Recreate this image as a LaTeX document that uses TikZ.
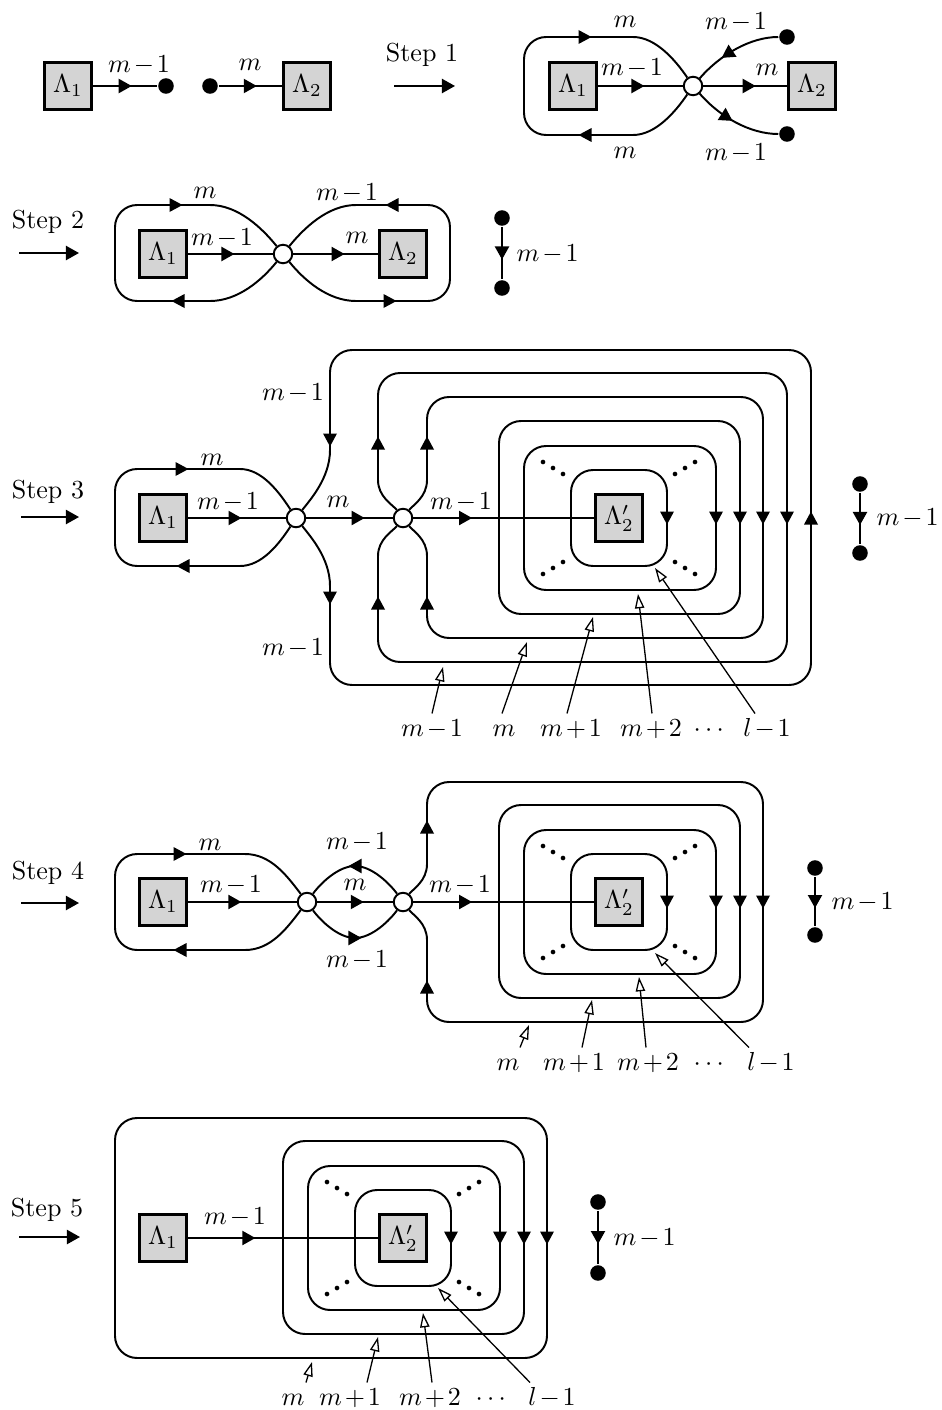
\documentclass[tikz,border=0pt]{standalone}
\usepackage{amsmath, amssymb}
\usepackage{tikz}
\usetikzlibrary{arrows.meta, decorations.markings, calc}

\medmuskip=2mu

\tikzset{
  lam/.style={draw, line width=1.15pt, fill=black!17, minimum size=0.64cm, inner sep=0pt},
  vert/.style={circle, draw, fill=white, minimum size=0.25cm, inner sep=0pt},
  blob/.style={circle, fill, minimum size=0.21cm, inner sep=0pt},
  tag/.style={inner sep=2pt, text height=6.4pt, text depth=0pt},
  flow/.style={postaction={decorate}, decoration={markings,
      mark=at position #1 with {\arrow[xshift=2.5pt]{Triangle[length=5pt, width=5.4pt]}}}},
  flow/.default=0.5,
  steparrow/.style={-{Triangle[length=5pt, width=5.4pt]}},
  pointer/.style={line width=0.5pt, -{Triangle[open, length=5.5pt, width=3.6pt]}},
  ring/.style={rounded corners=8.5pt},
  tri/.pic={\fill (6.5,0) -- (-6.5,7) -- (-6.5,-7) -- cycle;},
  nest/.pic={
    \draw[ring] (-120,-97) rectangle (121,96);
    \draw[ring] (-95,-72) rectangle (97,72);
    \draw[ring] (-48,-48) rectangle (48,48);
    \foreach \rx in {48,97,121} \pic[rotate=-90] at (\rx,0) {tri};
    \foreach \sx in {-1,1} \foreach \sy in {-1,1} \foreach \k in {0,1,2}
      \fill ({\sx*(56+10*\k)}, {\sy*(44+6*\k)}) circle (0.9pt);
  }
}

\begin{document}
\begin{tikzpicture}[x=0.0135cm, y=-0.0135cm, line width=0.75pt]
  \path[use as bounding box, fill=white] (0,0) rectangle (941,1410);

  % 0. Ausgangslage
  \node[lam] (s0a) at (68,86) {$\Lambda_1$};
  \node[blob] (s0d1) at (166,86) {};
  \node[blob] (s0d2) at (210,86) {};
  \node[lam] (s0b) at (307,86) {$\Lambda_2$};
  \draw[flow] (s0a) -- (s0d1);
  \draw[flow] (s0d2) -- (s0b);
  \node (s0l1) at (139,65) {$m-1$};
  \node (s0l2) at (250,65) {$m$};

  % 1. Schritt 1
  \node (s1) at (422,55) {Step 1};
  \coordinate (s1a) at (394,86);
  \coordinate (s1b) at (455,86);
  \draw[steparrow] (s1a) -- (s1b);
  \node[lam] (t1a) at (573,86) {$\Lambda_1$};
  \node[vert] (t1v) at (693,86) {};
  \node[lam] (t1b) at (812,86) {$\Lambda_2$};
  \node[blob] (t1d1) at (787,37) {};
  \node[blob] (t1d2) at (787,134) {};
  \draw[flow=0.47] (t1a) -- (t1v);
  \draw[flow=0.55] (t1v) -- (t1b);
  \draw[flow=0.6] (t1d1) .. controls (750,37) and (720,55) .. (t1v);
  \draw[flow=0.4] (t1v) .. controls (720,117) and (750,134) .. (t1d2);
  \draw (633,135) .. controls (656,135) and (676,111) .. (t1v)
    .. controls (676,61) and (656,37) .. (633,37) [ring] -- (524,37) -- (524,135) -- (633,135);
  \pic at (585,37) {tri};
  \pic[rotate=180] at (585,135) {tri};
  \node (t1l1) at (625,22) {$m$};
  \node (t1l2) at (736,22) {$m-1$};
  \node (t1l3) at (632,68) {$m-1$};
  \node (t1l4) at (767,70) {$m$};
  \node (t1l5) at (625,153) {$m$};
  \node (t1l6) at (736,153) {$m-1$};

  % 2. Schritt 2
  \node (s2) at (48,222) {Step 2};
  \coordinate (s2a) at (19,253);
  \coordinate (s2b) at (79,253);
  \draw[steparrow] (s2a) -- (s2b);
  \node[lam] (t2a) at (163,254) {$\Lambda_1$};
  \node[vert] (t2v) at (283,254) {};
  \node[lam] (t2b) at (403,254) {$\Lambda_2$};
  \draw[flow=0.47] (t2a) -- (t2v);
  \draw[flow=0.53] (t2v) -- (t2b);
  \draw (210,301) .. controls (238,301) and (262,280) .. (t2v)
    .. controls (262,228) and (238,205) .. (210,205) [ring] -- (115,205) -- (115,301) -- (210,301);
  \draw (356,301) .. controls (328,301) and (304,280) .. (t2v)
    .. controls (304,228) and (328,205) .. (356,205) [ring] -- (450,205) -- (450,301) -- (356,301);
  \pic at (176,205) {tri};
  \pic[rotate=180] at (178,301) {tri};
  \pic[rotate=180] at (392,205) {tri};
  \pic at (390,301) {tri};
  \node (t2l1) at (205,193) {$m$};
  \node (t2l2) at (347,193) {$m-1$};
  \node (t2l3) at (222,238) {$m-1$};
  \node (t2l4) at (357,238) {$m$};
  \node[blob] (t2d1) at (502,218) {};
  \node[blob] (t2d2) at (502,288) {};
  \draw[flow] (t2d1) -- (t2d2);
  \node[anchor=west] (t2l5) at (507,254) {$m-1$};

  % 3. Schritt 3
  \node (s3) at (48,492) {Step 3};
  \coordinate (s3a) at (21,517);
  \coordinate (s3b) at (79,517);
  \draw[steparrow] (s3a) -- (s3b);
  \node[lam] (t3a) at (163,518) {$\Lambda_1$};
  \node[vert] (t3v) at (296,518) {};
  \node[vert] (t3w) at (403,518) {};
  \node[lam] (t3b) at (619,518) {$\Lambda_2'$};
  \pic at (t3b) {nest};
  \draw[flow=0.48] (t3a) -- (t3v);
  \draw[flow=0.6] (t3v) -- (t3w);
  \draw[flow=0.29] (t3w) -- (t3b);
  \draw (240,566) .. controls (262,566) and (279,544) .. (t3v)
    .. controls (279,492) and (262,469) .. (240,469) [ring] -- (115,469) -- (115,566) -- (240,566);
  \pic at (182,469) {tri};
  \pic[rotate=180] at (183,566) {tri};
  \draw (330,586) .. controls (330,558) and (310,536) .. (t3v)
    .. controls (310,500) and (330,478) .. (330,450) [ring] -- (330,350)
    -- (811,350) -- (811,685) -- (330,685) -- (330,586);
  \pic[rotate=-90] at (330,440) {tri};
  \pic[rotate=-90] at (330,598) {tri};
  \pic[rotate=90] at (811,518) {tri};
  \draw (378,556) .. controls (378,539) and (393,531) .. (t3w)
    .. controls (393,505) and (378,497) .. (378,480) [ring] -- (378,373)
    -- (787,373) -- (787,662) -- (378,662) -- (378,556);
  \draw (427,556) .. controls (427,539) and (413,531) .. (t3w)
    .. controls (413,505) and (427,497) .. (427,480) [ring] -- (427,397)
    -- (763,397) -- (763,638) -- (427,638) -- (427,556);
  \foreach \px in {378,427} {
    \pic[rotate=90] at (\px,443) {tri};
    \pic[rotate=90] at (\px,603) {tri};
  }
  \pic[rotate=-90] at (787,518) {tri};
  \pic[rotate=-90] at (763,518) {tri};
  \node (t3l1) at (212,460) {$m$};
  \node (t3l2) at (228,502) {$m-1$};
  \node (t3l3) at (338,502) {$m$};
  \node (t3l4) at (461,502) {$m-1$};
  \node (t3l5) at (293,393) {$m-1$};
  \node (t3l6) at (293,648) {$m-1$};
  \foreach \lab/\lx/\dx/\tx/\ty [count=\i] in
      {m-1/432/0/443/667, m/504/-2/527/642, m+1/571/-4/593/617, m+2/651/1/638/594, l-1/767/-12/655/568} {
    \node[tag] (t3p\i) at (\lx,728) {$\lab$};
    \coordinate (t3q\i) at (\tx,\ty);
    \draw[pointer] ($(t3p\i.north)+(\dx,0)$) -- (t3q\i);
  }
  \node[tag] (t3dots) at (711,728) {$\cdots$};
  \node[blob] (t3d1) at (860,484) {};
  \node[blob] (t3d2) at (860,553) {};
  \draw[flow] (t3d1) -- (t3d2);
  \node[anchor=west] (t3l7) at (867,518) {$m-1$};

  % 4. Schritt 4
  \node (s4) at (48,873) {Step 4};
  \coordinate (s4a) at (21,903);
  \coordinate (s4b) at (79,903);
  \draw[steparrow] (s4a) -- (s4b);
  \node[lam] (t4a) at (163,902) {$\Lambda_1$};
  \node[vert] (t4v) at (307,902) {};
  \node[vert] (t4w) at (403,902) {};
  \node[lam] (t4b) at (619,902) {$\Lambda_2'$};
  \pic at (t4b) {nest};
  \draw[flow=0.43] (t4a) -- (t4v);
  \draw[flow=0.53] (t4v) -- (t4w);
  \draw[flow=0.29] (t4w) -- (t4b);
  \draw (245,950) .. controls (271,950) and (287,928) .. (t4v)
    .. controls (287,876) and (271,854) .. (245,854) [ring] -- (115,854) -- (115,950) -- (245,950);
  \pic at (180,854) {tri};
  \pic[rotate=180] at (180,950) {tri};
  \draw[flow] (t4w) .. controls (390,884) and (372,866) .. (355,866)
    .. controls (338,866) and (320,884) .. (t4v);
  \draw[flow] (t4v) .. controls (320,920) and (338,938) .. (355,938)
    .. controls (372,938) and (390,920) .. (t4w);
  \draw (427,940) .. controls (427,923) and (413,915) .. (t4w)
    .. controls (413,889) and (427,881) .. (427,864) [ring] -- (427,782)
    -- (763,782) -- (763,1022) -- (427,1022) -- (427,940);
  \pic[rotate=90] at (427,827) {tri};
  \pic[rotate=90] at (427,987) {tri};
  \pic[rotate=-90] at (763,902) {tri};
  \node (t4l1) at (210,845) {$m$};
  \node (t4l2) at (231,885) {$m-1$};
  \node (t4l3) at (355,885) {$m$};
  \node (t4l4) at (460,885) {$m-1$};
  \node (t4l5) at (357,842) {$m-1$};
  \node (t4l6) at (357,960) {$m-1$};
  \foreach \lab/\lx/\dx/\tx/\ty [count=\i] in
      {m/508/12/529/1025, m+1/574/8/592/1000, m+2/648/-2/639/977, l-1/771/-22/655/953} {
    \node[tag] (t4p\i) at (\lx,1062) {$\lab$};
    \coordinate (t4q\i) at (\tx,\ty);
    \draw[pointer] ($(t4p\i.north)+(\dx,0)$) -- (t4q\i);
  }
  \node[tag] (t4dots) at (711,1062) {$\cdots$};
  \node[blob] (t4d1) at (815,868) {};
  \node[blob] (t4d2) at (815,935) {};
  \draw[flow] (t4d1) -- (t4d2);
  \node[anchor=west] (t4l7) at (822,902) {$m-1$};

  % 5. Schritt 5
  \node (s5) at (47,1210) {Step 5};
  \coordinate (s5a) at (19,1237);
  \coordinate (s5b) at (80,1237);
  \draw[steparrow] (s5a) -- (s5b);
  \node[lam] (t5a) at (163,1238) {$\Lambda_1$};
  \node[lam] (t5b) at (403,1238) {$\Lambda_2'$};
  \pic at (t5b) {nest};
  \draw[ring] (115,1118) rectangle (547,1358);
  \pic[rotate=-90] at (547,1238) {tri};
  \draw[flow=0.32] (t5a) -- (t5b);
  \node (t5l1) at (235,1217) {$m-1$};
  \foreach \lab/\lx/\dx/\tx/\ty [count=\i] in
      {m/293/13/312/1362, m+1/350/17/378/1337, m+2/430/2/423/1313, l-1/552/-22/438/1288} {
    \node[tag] (t5p\i) at (\lx,1397) {$\lab$};
    \coordinate (t5q\i) at (\tx,\ty);
    \draw[pointer] ($(t5p\i.north)+(\dx,0)$) -- (t5q\i);
  }
  \node[tag] (t5dots) at (493,1397) {$\cdots$};
  \node[blob] (t5d1) at (598,1202) {};
  \node[blob] (t5d2) at (598,1273) {};
  \draw[flow] (t5d1) -- (t5d2);
  \node[anchor=west] (t5l2) at (604,1238) {$m-1$};
\end{tikzpicture}
\end{document}
